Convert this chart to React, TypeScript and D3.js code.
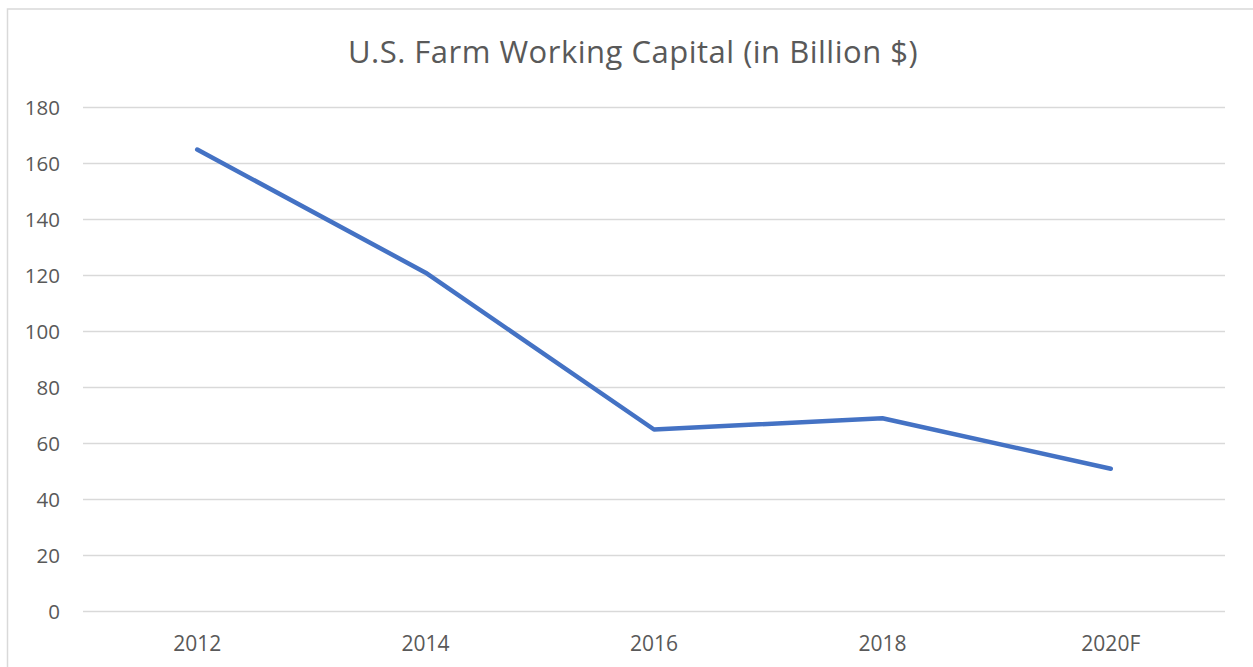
import React from "react";
import * as d3 from "d3";

const categories = ["2012", "2014", "2016", "2018", "2020F"];
const values = [165, 121, 65, 69, 51];
const yTicks = [0, 20, 40, 60, 80, 100, 120, 140, 160, 180];
const title = "U.S. Farm Working Capital (in Billion $)";

export default function App() {
  const W = 1253, H = 667;
  const left = 83, right = 1225, top = 107.5, bottom = 611.5;
  const x = d3.scaleBand<string>().domain(categories).range([left, right]);
  const y = d3.scaleLinear().domain([0, 180]).range([bottom, top]);
  const line = d3
    .line<number>()
    .x((_, i) => (x(categories[i]) as number) + x.bandwidth() / 2)
    .y((d) => y(d));
  const font = "'Open Sans', 'Noto Sans', sans-serif";
  return (
    <svg
      width={W}
      height={H}
      style={{ position: "absolute", left: 0, top: 0, background: "#fff" }}
      fontFamily={font}
    >
      <rect x={7.5} y={9} width={1260} height={700} fill="#fff" stroke="#d9d9d9" strokeWidth={1.5} />
      <text x={633} y={63} textAnchor="middle" fontSize={31} letterSpacing={0.5} fill="#595959">
        {title}
      </text>
      {yTicks.map((t) => (
        <g key={t}>
          <line x1={left} x2={right} y1={y(t)} y2={y(t)} stroke="#d9d9d9" strokeWidth={1.3} />
          <text x={60} y={y(t)} dy="0.36em" textAnchor="end" fontSize={20.5} fill="#595959">
            {t}
          </text>
        </g>
      ))}
      {categories.map((c) => (
        <text
          key={c}
          x={(x(c) as number) + x.bandwidth() / 2}
          y={651}
          textAnchor="middle"
          fontSize={21}
          fill="#595959"
        >
          {c}
        </text>
      ))}
      <path
        d={line(values) as string}
        fill="none"
        stroke="#4472C4"
        strokeWidth={4.5}
        strokeLinecap="round"
        strokeLinejoin="round"
      />
    </svg>
  );
}
